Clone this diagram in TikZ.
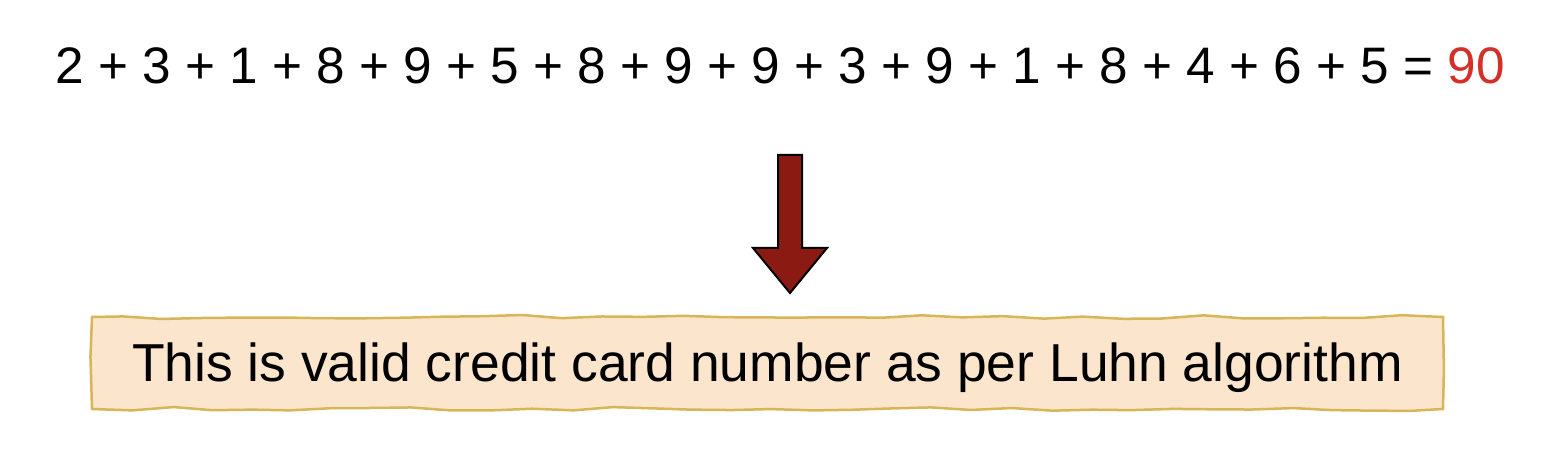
\documentclass[tikz,border=0pt]{standalone}
\usepackage{fontspec}
\setmainfont{Liberation Sans}
\usepackage{xcolor}
\usetikzlibrary{
    decorations.pathmorphing,
    calc,
    positioning
}
\definecolor{luhnred}{HTML}{D4302A}
\definecolor{arrowred}{HTML}{8B1A12}
\definecolor{boxgold}{HTML}{D6B656}
\definecolor{boxfill}{HTML}{FBE5CC}
\tikzset{sumline/.style={inner sep=0pt, text height=3.7mm, text depth=0mm, font=\fontsize{14.6}{17}\selectfont}}
\tikzset{verdictbox/.style={draw=boxgold, fill=boxfill, line width=0.25mm, inner sep=0pt, minimum width=135.1mm, minimum height=9.2mm, text height=3.8mm, text depth=0mm, font=\fontsize{15.2}{18}\selectfont, decorate, decoration={random steps, segment length=4mm, amplitude=0.2mm}}}
\tikzset{downarrow/.style={draw=black, fill=arrowred, line width=0.2mm, line join=miter}}

\begin{document}
\begin{tikzpicture}[x=0.1mm, y=0.1mm]
                        \useasboundingbox (0, 0) rectangle (1560, 450);

                        \node[sumline] (sum) at (780, 385) {2 + 3 + 1 + 8 + 9 + 5 + 8 + 9 + 9 + 3 + 9 + 1 + 8 + 4 + 6 + 5 = \textcolor{luhnred}{90}};

                        \node[verdictbox] (verdict) at (767.5, 87) {This is valid credit card number as per Luhn algorithm};

                        \draw[downarrow]
                        (778, 295) -- (802, 295) -- (802, 202) -- (827, 202) -- (790, 157)
                        -- (753, 202) -- (778, 202) -- cycle;
                    \end{tikzpicture}
\end{document}
